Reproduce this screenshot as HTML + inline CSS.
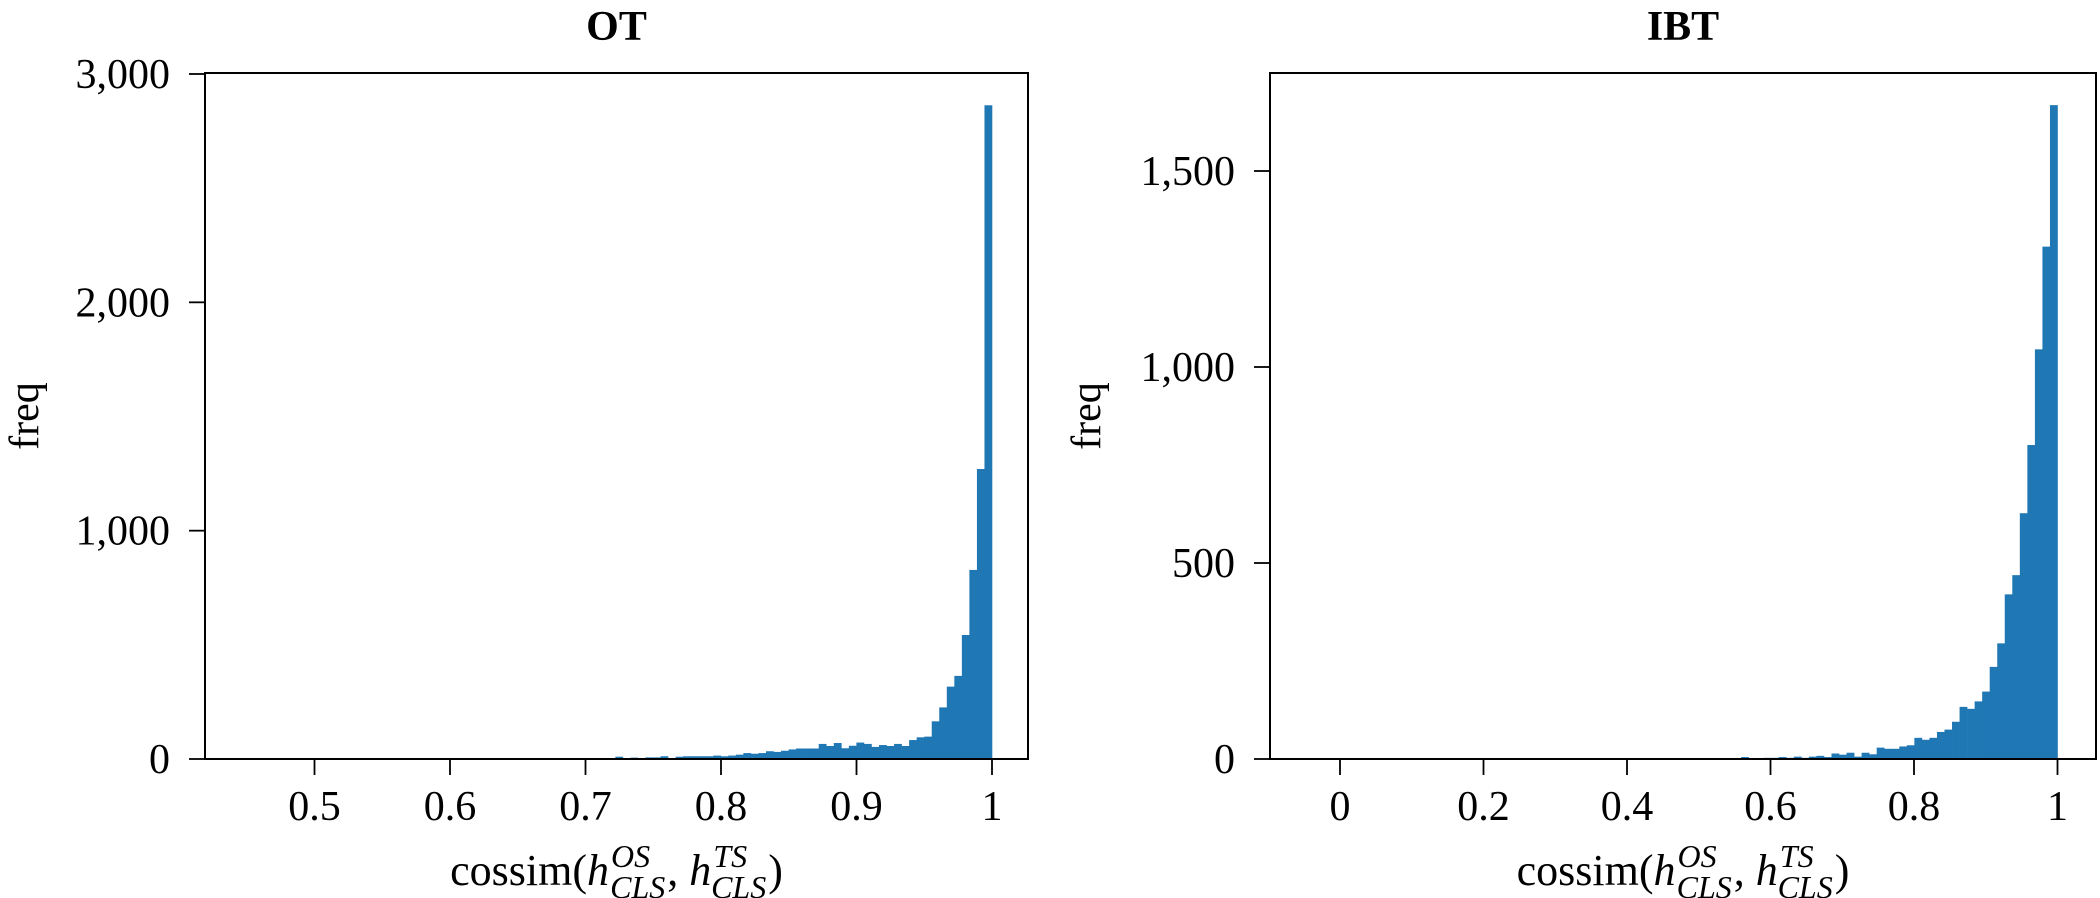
<!DOCTYPE html>
<html><head><meta charset="utf-8">
<style>
html,body{margin:0;padding:0;background:#fff;}
svg{display:block;font-family:"Liberation Serif",serif;}
</style></head>
<body>
<svg id="chart" width="2100" height="898" viewBox="0 0 2100 898" xmlns="http://www.w3.org/2000/svg">
</svg>
<script>
// ---- data: OT panel ----
const otMin = 0.444;
const otMax = 1.0;
const otCounts = [1,1,1,1,1,1,1,1,1,1, 1,1,1,1,1,1,1,1,1,1,
  1,2,1,1,2,1,1,2,1,2, 1,2,2,1,2,2,1,2,2,3, 2,2,3,2,3,2,
  1,2,3,3,10,2,6,2,7,7,12,4,10,12,12,12,12,15,
  12,15,19,26,23,26,34,31,36,42,46,46,46,66,57,70,47,58,
  72,66,53,61,57,66,57,83,95,98,165,226,317,364,543,828,1270,2863];
const otXTicks = [0.5,0.6,0.7,0.8,0.9,1];
const otXTickLabels = ["0.5","0.6","0.7","0.8","0.9","1"];
const otYTicks = [0,1000,2000,3000];
const otYTickLabels = ["0","1,000","2,000","3,000"];

// ---- data: IBT panel ----
const ibtMin = -0.05;
const ibtMax = 1.0;
const ibtCounts = [1,1,1,1,1,1,1,1,1,1, 1,1,1,1,1,1,1,1,1,1,
  1,1,1,1,1,1,1,1,1,1, 1,1,1,1,1,1,1,1,1,1, 1,1,1,1,1,1,1,1,1,1,
  1,2,1,2,1,2,2,2,5,2,2,3,3,5,3,6,3,6,8,5,
  14,11,16,6,16,12,29,26,26,32,35,54,49,54,69,75,95,133,128,147,
  172,235,295,420,469,627,801,1045,1307,1668];
const ibtXTicks = [0,0.2,0.4,0.6,0.8,1];
const ibtXTickLabels = ["0","0.2","0.4","0.6","0.8","1"];
const ibtYTicks = [0,500,1000,1500];
const ibtYTickLabels = ["0","500","1,000","1,500"];

const NS = "http://www.w3.org/2000/svg";
const svg = document.getElementById('chart');
function mk(tag, attrs, parent){
  const e = document.createElementNS(NS, tag);
  for (const k in attrs) e.setAttribute(k, attrs[k]);
  (parent||svg).appendChild(e);
  return e;
}

function panel(cfg){
  const g = mk('g', {});
  
  
  const L = cfg.left, R = cfg.right, T = 73, B = 759;
  const xs = v => cfg.x0 + (v - cfg.v0) * cfg.xScale;
  const ys = v => B - v * cfg.yScale;
  const n = cfg.counts.length;
  const w = (cfg.max - cfg.min) / n;
  const bars = mk('g', {}, g);
  
  
  cfg.counts.forEach((c, i) => {
    const x1 = xs(cfg.min + i * w), x2 = xs(cfg.min + (i + 1) * w);
    const r = mk('rect', {x: x1, y: ys(c), width: Math.max(0.5, x2 - x1 + 0.3), height: B - ys(c), fill: '#1f77b4'}, bars);
    
    
  });
  const f = mk('rect', {x: L, y: T, width: R - L, height: B - T, fill: 'none', stroke: '#000', 'stroke-width': 2}, g);
  
  
  cfg.xTicks.forEach((t, i) => {
    const x = xs(t);
    const tk = mk('line', {x1: x, x2: x, y1: B, y2: B + 16, stroke: '#000', 'stroke-width': 1.8}, g);
    
    
    const tx = mk('text', {x: x, y: 820, 'font-size': 42, 'text-anchor': 'middle'}, g);
    tx.textContent = cfg.xTickLabels[i];
    
    
  });
  cfg.yTicks.forEach((t, i) => {
    const y = ys(t);
    const tk = mk('line', {x1: L - 16, x2: L, y1: y, y2: y, stroke: '#000', 'stroke-width': 1.8}, g);
    
    
    const tx = mk('text', {x: L - 35, y: y + 14, 'font-size': 42, 'text-anchor': 'end'}, g);
    tx.textContent = cfg.yTickLabels[i];
    
    
  });
  const cx = (L + R) / 2;
  const title = mk('text', {x: cx, y: 40, 'font-size': 42, 'font-weight': 'bold', 'text-anchor': 'middle'}, g);
  title.textContent = cfg.title;
  
  
  const yl = mk('text', {x: 0, y: 0, 'font-size': 42, 'text-anchor': 'middle', transform: `translate(${cfg.yLabelX},416) rotate(-90)`}, g);
  yl.textContent = 'freq';
  
  
  const xl = mk('text', {x: cx, y: 885, 'font-size': 44, 'text-anchor': 'middle'}, g);
  
  
  xl.innerHTML = 'cossim(<tspan font-style="italic">h</tspan><tspan font-size="32" font-style="italic" dx="2" dy="-18">OS</tspan><tspan font-size="32" font-style="italic" dx="-40" dy="31">CLS</tspan><tspan dx="2" dy="-13">, </tspan><tspan font-style="italic">h</tspan><tspan font-size="32" font-style="italic" dx="2" dy="-18">TS</tspan><tspan font-size="32" font-style="italic" dx="-36" dy="31">CLS</tspan><tspan dx="2" dy="-13">)</tspan>';
}

panel({name:'ot', title:'OT', left:205, right:1028, x0:992, v0:1, xScale:1355, yScale:685/3000,
  min:otMin, max:otMax, counts:otCounts, xTicks:otXTicks, xTickLabels:otXTickLabels,
  yTicks:otYTicks, yTickLabels:otYTickLabels, yLabelX:38});
panel({name:'ibt', title:'IBT', left:1270, right:2096, x0:1340, v0:0, xScale:717.5, yScale:588/1500,
  min:ibtMin, max:ibtMax, counts:ibtCounts, xTicks:ibtXTicks, xTickLabels:ibtXTickLabels,
  yTicks:ibtYTicks, yTickLabels:ibtYTickLabels, yLabelX:1100});
</script>
</body></html>
